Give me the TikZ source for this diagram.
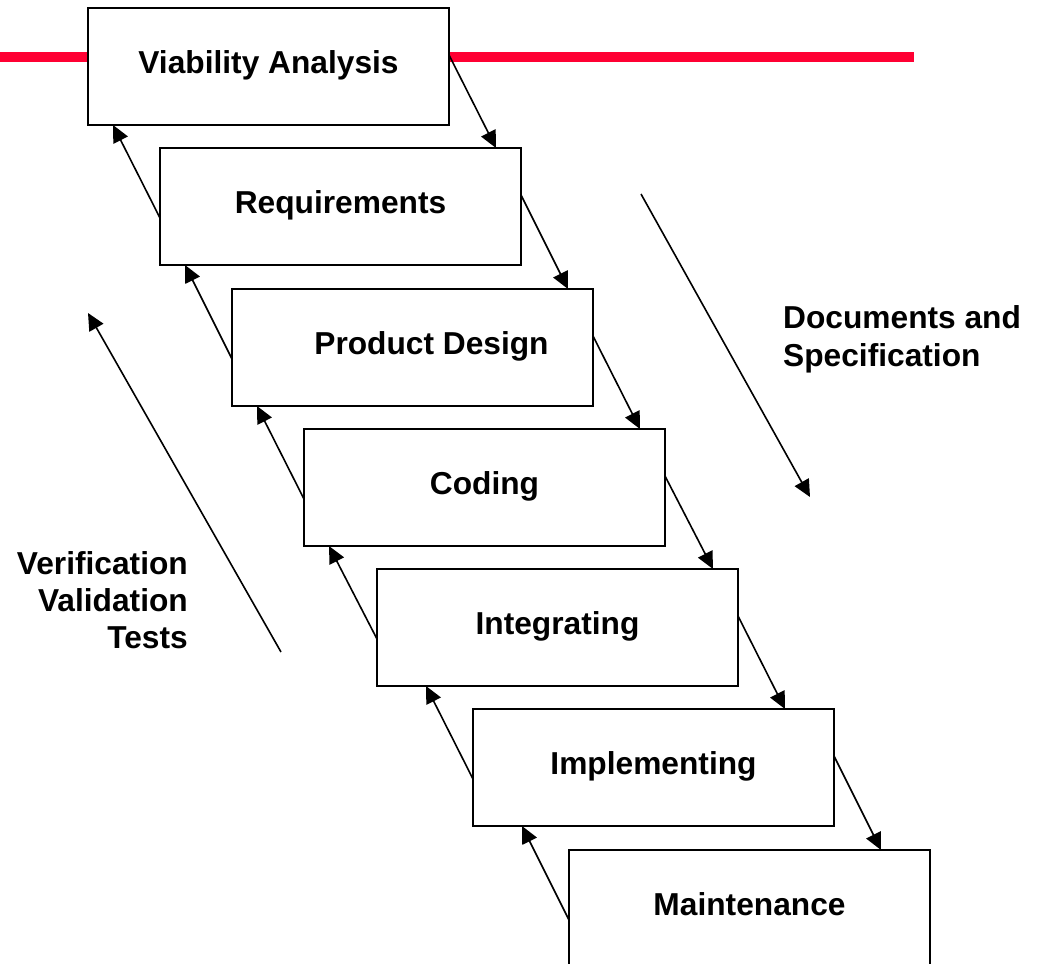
\documentclass[tikz,border=0pt]{standalone}
\usepackage{fontspec}
\setmainfont{Liberation Sans}
\usetikzlibrary{arrows.meta,calc}

\begin{document}
\begin{tikzpicture}[x=1pt,y=-1pt,
  phase/.style={draw=black,fill=white,line width=1.6pt,outer sep=0pt,inner sep=0pt,
    anchor=north west,minimum width=361pt,minimum height=117pt,
    text height=24pt,text depth=11pt,
    font=\fontsize{31.7}{37.5}\selectfont\bfseries},
  flow/.style={line width=1.6pt,-{Triangle[length=17pt,width=16pt]}},
  sidetext/.style={inner sep=0pt,font=\fontsize{31.7}{37.5}\selectfont\bfseries}
]
\useasboundingbox (0,0) rectangle (1037,964);

% red band behind the first phase
\coordinate (barL) at (0,57);
\coordinate (barR) at (914,57);
\draw[line width=10pt,color={rgb,255:red,255;green,0;blue,51}] (barL) -- (barR);

% the phases
\node[phase,line width=2pt] (via) at (88,8)   {Viability Analysis};
\node[phase] (req) at (160,148) {Requirements};
\node[phase] (pd)  at (232,289) {\hspace*{38pt}Product Design};
\node[phase] (cod) at (304,429) {Coding};
\node[phase] (int) at (377,569) {Integrating};
\node[phase] (imp) at (473,709) {Implementing};
\node[phase] (mai) at (569,850) {Maintenance};

% downward flow between phases
\draw[flow] ($(via.north east)+(0,47)$) -- ($(req.north east)+(-25,0)$);
\draw[flow] ($(req.north east)+(0,47)$) -- ($(pd.north east)+(-25,0)$);
\draw[flow] ($(pd.north east)+(0,47)$)  -- ($(cod.north east)+(-25,0)$);
\draw[flow] ($(cod.north east)+(0,47)$) -- ($(int.north east)+(-25,0)$);
\draw[flow] ($(int.north east)+(0,47)$) -- ($(imp.north east)+(-49,0)$);
\draw[flow] ($(imp.north east)+(0,47)$) -- ($(mai.north east)+(-49,0)$);

% upward feedback between phases
\draw[flow] ($(req.north west)+(0,70)$) -- ($(via.south west)+(25,0)$);
\draw[flow] ($(pd.north west)+(0,70)$)  -- ($(req.south west)+(25,0)$);
\draw[flow] ($(cod.north west)+(0,70)$) -- ($(pd.south west)+(25,0)$);
\draw[flow] ($(int.north west)+(0,70)$) -- ($(cod.south west)+(25,0)$);
\draw[flow] ($(imp.north west)+(0,70)$) -- ($(int.south west)+(49,0)$);
\draw[flow] ($(mai.north west)+(0,70)$) -- ($(imp.south west)+(49,0)$);

% long side arrows
\coordinate (docS) at (641,194);
\coordinate (docE) at (810,497);
\coordinate (verS) at (281,652);
\coordinate (verE) at (88,313);
\draw[flow] (docS) -- (docE);
\draw[flow] (verS) -- (verE);

% side captions (base anchor sits on the last line)
\node[sidetext,anchor=base west,align=left] (doc) at (783,366)
  {Documents and\\[0.5pt]Specification};
\node[sidetext,anchor=base east,align=right] (ver) at (188,648)
  {Verification\\[-0.5pt]Validation\\[-0.5pt]Tests};
\end{tikzpicture}
\end{document}
